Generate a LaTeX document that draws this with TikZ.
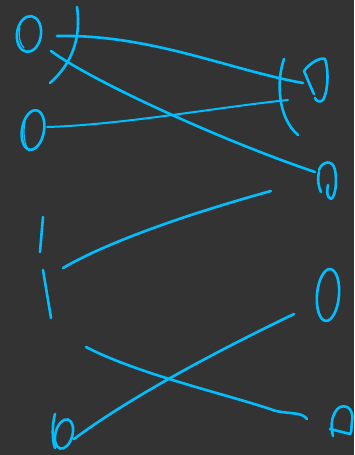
\documentclass[tikz,border=0pt]{standalone}
\usepackage{xcolor}
\usetikzlibrary{shapes.geometric, calc}

\definecolor{board}{RGB}{51,51,51}
\definecolor{ink}{RGB}{0,191,255}

\begin{document}
\begin{tikzpicture}[
  x=1pt, y=-1pt,
  pen/.style={draw=ink, line width=2.6pt, line cap=round, line join=round},
  thin pen/.style={draw=ink, line width=2pt, line cap=round, line join=round},
  fine pen/.style={draw=ink, line width=1.2pt, line cap=round},
  zero/.style={ellipse, draw=ink, line width=2.6pt, inner sep=0pt},
]
  \fill[board] (0,0) rectangle (354,455);
  \useasboundingbox (0,0) rectangle (354,455);

  % left column of zeros
  \node[zero, minimum width=24pt, minimum height=36pt, rotate=-8] (l1) at (29,34) {};
  \node[zero, minimum width=22pt, minimum height=40pt, rotate=-10] (l2) at (33,130) {};
  \node[zero, minimum width=17pt, minimum height=30pt, rotate=-15] (l3) at (64,434) {};
  \draw[fine pen] (20,28) .. controls (18,36) and (20,44) .. (24,48);
  \draw[fine pen] (25,122) .. controls (23,132) and (24,144) .. (29,151);
  \draw[pen] (55,414) .. controls (52,425) and (52,440) .. (55,448);

  % right column
  \node[zero, minimum width=22pt, minimum height=52pt, rotate=-5] (r3) at (328,295) {};

  % line ends
  \coordinate (a1) at (57,36);   \coordinate (b1) at (303,83);
  \coordinate (a2) at (51,51);   \coordinate (b2) at (315,172);
  \coordinate (a3) at (47,127);  \coordinate (b3) at (288,100);
  \coordinate (a4) at (63,268);  \coordinate (b4) at (271,191);
  \coordinate (a5) at (74,439);  \coordinate (b5) at (294,314);
  \coordinate (a6) at (86,347);  \coordinate (b6) at (307,419);

  % strokes
  \draw[pen] (77,7) .. controls (81,35) and (74,62) .. (50,83);
  \draw[pen] (284,59) .. controls (276,82) and (278,118) .. (298,135);
  \draw[pen] (43,217) -- (40,252);
  \draw[pen] (43,270) -- (51,318);

  % the "D" shapes on the right
  \draw[pen] (304,71) .. controls (310,63) and (320,57) .. (325,59)
             .. controls (329,70) and (328,92) .. (323,100)
             .. controls (320,103) and (316,101) .. (315,98)
             (304,71) .. controls (308,80) and (311,88) .. (314,94);
  \draw[pen] (319,170) .. controls (322,161) and (333,159) .. (335,170)
             .. controls (337,180) and (336,196) .. (331,199)
             .. controls (326,197) and (327,190) .. (328,185)
             (319,172) .. controls (317,180) and (319,188) .. (321,192);
  \draw[pen] (333,436) .. controls (330,425) and (332,412) .. (340,407)
             .. controls (349,404) and (354,412) .. (352,422)
             .. controls (351,428) and (352,432) .. (350,434)
             -- (330,429);

  % connectors
  \draw[pen] (a1) .. controls (150,34) and (230,70) .. (b1);
  \draw[pen] (a2) .. controls (90,80) and (220,140) .. (b2);
  \draw[thin pen] (a3) .. controls (120,125) and (220,107) .. (b3);
  \draw[pen] (a4) .. controls (120,235) and (220,205) .. (b4);
  \draw[pen] (a5) .. controls (140,390) and (240,340) .. (b5);
  \draw[pen] (a6) .. controls (140,375) and (230,395) .. (276,411)
             .. controls (290,414) and (302,412) .. (b6);
\end{tikzpicture}
\end{document}
